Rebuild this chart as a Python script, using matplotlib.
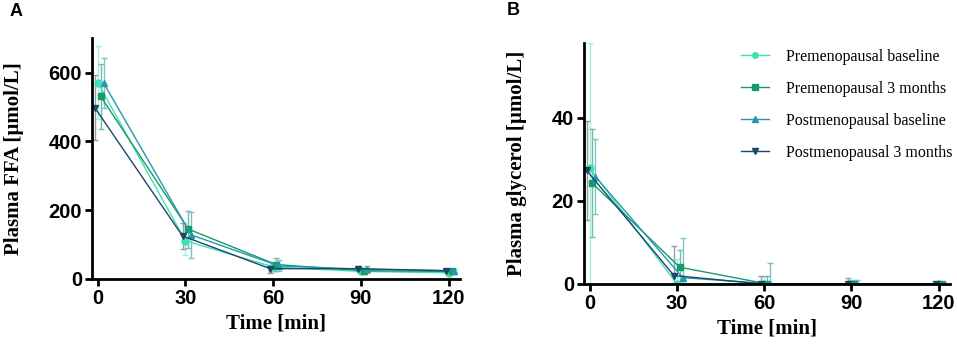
import matplotlib
matplotlib.use("Agg")
import matplotlib.pyplot as plt
import numpy as np

# ---- data ----
time_min = [0, 30, 60, 90, 120]
groups = ["Premenopausal baseline", "Premenopausal 3 months",
          "Postmenopausal baseline", "Postmenopausal 3 months"]

ffa_mean = {
    "Premenopausal baseline":  [571, 111, 35, 22, 18],
    "Premenopausal 3 months":  [531, 145, 42, 24, 22],
    "Postmenopausal baseline": [570, 128, 38, 28, 24],
    "Postmenopausal 3 months": [498, 125, 30, 30, 24],
}
ffa_err = {
    "Premenopausal baseline":  [106, 42, 14, 8, 6],
    "Premenopausal 3 months":  [95, 54, 18, 9, 6],
    "Postmenopausal baseline": [73, 67, 16, 10, 6],
    "Postmenopausal 3 months": [94, 39, 12, 8, 5],
}
gly_mean = {
    "Premenopausal baseline":  [27.9, 0.0, 0.0, 0.0, 0.0],
    "Premenopausal 3 months":  [24.2, 4.0, 0.0, 0.0, 0.0],
    "Postmenopausal baseline": [25.8, 1.5, 0.0, 0.0, 0.0],
    "Postmenopausal 3 months": [27.3, 2.0, 0.0, 0.0, 0.0],
}
gly_err = {
    "Premenopausal baseline":  [30.0, 6.0, 2.0, 1.0, 0.3],
    "Premenopausal 3 months":  [13.0, 4.1, 2.0, 1.0, 0.3],
    "Postmenopausal baseline": [9.0, 9.6, 5.0, 1.0, 0.3],
    "Postmenopausal 3 months": [12.0, 7.0, 2.0, 1.5, 0.3],
}

# ---- styles ----
STYLE = {
    "Premenopausal baseline":  dict(color="#3fe0b4", ecolor="#9ff0d8", marker="o", dx=0.0),
    "Premenopausal 3 months":  dict(color="#159a68", ecolor="#6fc0a0", marker="s", dx=1.0),
    "Postmenopausal baseline": dict(color="#2498ac", ecolor="#7cc4cc", marker="^", dx=2.0),
    "Postmenopausal 3 months": dict(color="#1b4868", ecolor="#8aa0ac", marker="v", dx=-1.0),
}
SERIF = ["Liberation Serif", "DejaVu Serif"]
SANS = ["Liberation Sans", "DejaVu Sans"]


def panel(ax, means, errs, ylim, yticks, ylabel):
    for g in groups:
        st = STYLE[g]
        x = np.array(time_min) + st["dx"]
        ax.errorbar(x, means[g], yerr=errs[g], color=st["color"], ecolor=st["ecolor"],
                    elinewidth=1.0, capsize=2.5, capthick=1.0, lw=1.0,
                    marker=st["marker"], ms=5, mec=st["color"], label=g)
    ax.set_xlim(-2, 124)
    ax.set_ylim(*ylim)
    ax.set_xticks(time_min)
    ax.set_yticks(yticks)
    for s in ("top", "right"):
        ax.spines[s].set_visible(False)
    for s in ("left", "bottom"):
        ax.spines[s].set_linewidth(2.0)
    ax.tick_params(width=2.0, length=5, labelsize=14.5, pad=2)
    for lab in ax.get_xticklabels() + ax.get_yticklabels():
        lab.set_family(SANS)
        lab.set_fontweight("bold")
    ax.set_xlabel("Time [min]", family=SERIF, fontweight="bold", fontsize=15, labelpad=4)
    ax.set_ylabel(ylabel, family=SERIF, fontweight="bold", fontsize=15, labelpad=18)


fig = plt.figure(figsize=(9.57, 3.47), dpi=100)
axA = fig.add_axes([0.096, 0.196, 0.385, 0.694])
axB = fig.add_axes([0.610, 0.182, 0.383, 0.694])

panel(axA, ffa_mean, ffa_err, (0, 700), [0, 200, 400, 600], "Plasma FFA [µmol/L]")
panel(axB, gly_mean, gly_err, (0, 58), [0, 20, 40], "Plasma glycerol [µmol/L]")

handles, labels = axB.get_legend_handles_labels()
handles = [h[0] for h in handles]
axB.legend(handles, labels, loc="upper left", bbox_to_anchor=(0.43, 0.975), frameon=False,
           prop={"family": SERIF, "size": 11.5}, labelspacing=1.0, handlelength=1.7,
           handletextpad=1.1, borderpad=0, borderaxespad=0, markerscale=0.8)

fig.text(0.010, 0.955, "A", family=SANS, fontweight="bold", fontsize=13)
fig.text(0.530, 0.958, "B", family=SANS, fontweight="bold", fontsize=13)

fig.savefig("out.png", dpi=100)
